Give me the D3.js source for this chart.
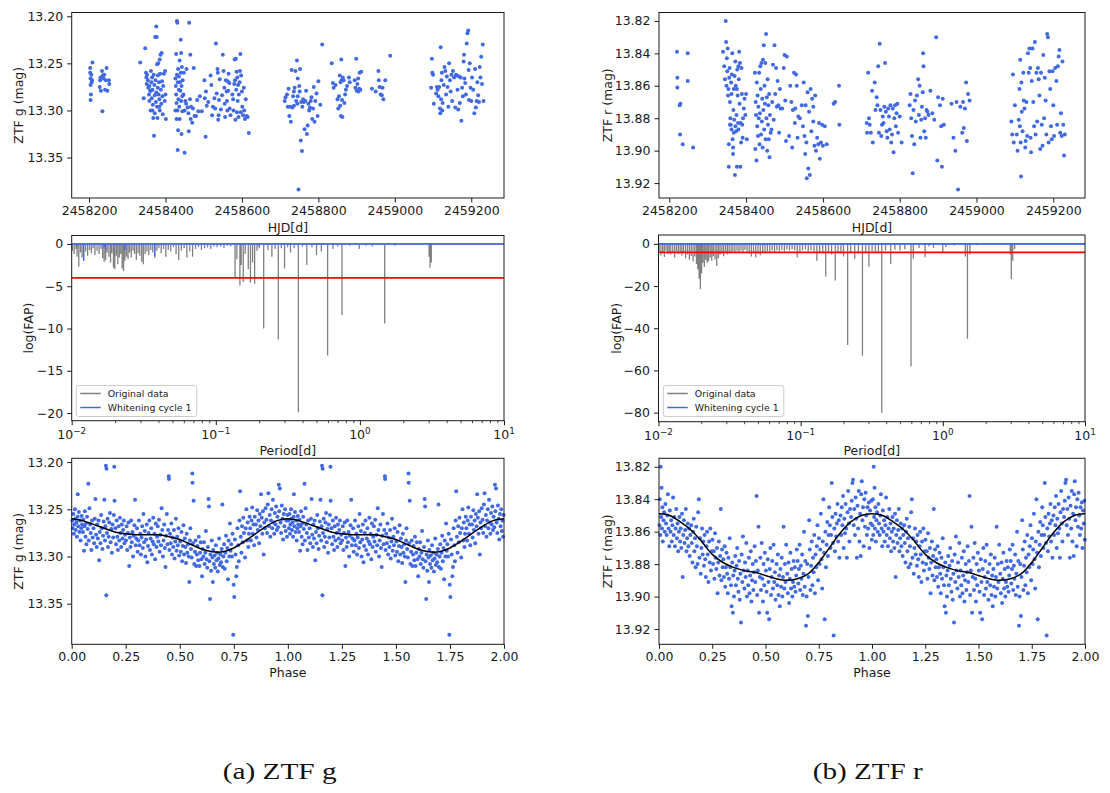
<!DOCTYPE html>
<html>
<head>
<meta charset="utf-8">
<script src="https://cdn.jsdelivr.net/npm/d3@7"></script>
<style>
  body { margin: 0; background: #fff; }
  svg text { font-family: "DejaVu Sans", sans-serif; }
</style>
</head>
<body>
<script>
// ---------------- ZTF g light curve: [HJD, mag] ----------------
const gLightCurve = [
  [2458203,13.255],[2458203,13.260],[2458204,13.266],[2458204,13.273],[2458205,13.283],[2458204,13.289],[2458206,13.262],[2458207,13.270],[2458208,13.268],[2458209,13.249],
  [2458228,13.275],[2458229,13.268],[2458230,13.265],[2458231,13.279],[2458234,13.258],[2458235,13.301],[2458236,13.263],[2458238,13.266],[2458240,13.262],[2458242,13.278],
  [2458244,13.268],[2458246,13.255],[2458248,13.279],[2458252,13.268],[2458253,13.272],
  [2458334,13.249],[2458343,13.287],[2458347,13.234],[2458349,13.260],[2458350,13.265],[2458351,13.272],[2458352,13.262],[2458354,13.268],[2458355,13.276],[2458357,13.283],
  [2458358,13.290],[2458360,13.279],[2458361,13.300],[2458362,13.258],[2458363,13.270],[2458364,13.287],[2458365,13.265],[2458366,13.278],[2458367,13.294],[2458368,13.308],
  [2458369,13.262],[2458370,13.327],[2458371,13.273],[2458372,13.284],[2458373,13.222],[2458374,13.268],[2458375,13.291],[2458376,13.211],[2458377,13.222],[2458378,13.251],
  [2458378,13.296],[2458379,13.308],[2458380,13.263],[2458380,13.276],[2458381,13.250],[2458382,13.283],[2458383,13.270],[2458384,13.288],[2458385,13.246],[2458385,13.300],
  [2458386,13.261],[2458387,13.241],[2458388,13.278],[2458389,13.293],[2458390,13.239],[2458391,13.269],[2458392,13.285],[2458393,13.304],[2458394,13.274],[2458396,13.261],
  [2458398,13.290],[2458400,13.283],[2458401,13.309],[2458399,13.258],[2458366,13.300],[2458372,13.303],[2458358,13.274],[2458384,13.296],[2458376,13.281],[2458362,13.279],
  [2458426,13.266],[2458427,13.274],[2458428,13.240],[2458428,13.283],[2458429,13.292],[2458429,13.309],[2458430,13.205],[2458430,13.262],[2458431,13.207],[2458431,13.300],
  [2458432,13.342],[2458432,13.270],[2458433,13.321],[2458433,13.256],[2458434,13.288],[2458435,13.264],[2458436,13.296],[2458437,13.247],[2458437,13.309],[2458438,13.270],
  [2458439,13.279],[2458440,13.225],[2458440,13.260],[2458441,13.239],[2458441,13.290],[2458442,13.325],[2458442,13.274],[2458443,13.254],[2458444,13.301],[2458445,13.268],
  [2458447,13.283],[2458448,13.260],[2458450,13.345],[2458450,13.300],[2458452,13.290],[2458454,13.293],[2458455,13.256],[2458458,13.297],[2458460,13.303],[2458461,13.322],
  [2458462,13.207],[2458464,13.288],[2458465,13.241],[2458466,13.309],[2458467,13.296],[2458470,13.313],[2458472,13.298],[2458474,13.255],[2458476,13.306],[2458435,13.278],
  [2458444,13.285],[2458426,13.300],
  [2458480,13.306],[2458483,13.289],[2458486,13.301],[2458490,13.285],[2458495,13.301],[2458502,13.268],[2458503,13.287],[2458505,13.328],[2458506,13.280],[2458508,13.295],
  [2458512,13.291],[2458518,13.263],[2458520,13.273],[2458522,13.305],[2458524,13.296],[2458528,13.287],[2458530,13.298],[2458532,13.229],[2458534,13.282],[2458536,13.256],
  [2458537,13.260],[2458538,13.310],[2458539,13.305],[2458540,13.289],[2458542,13.267],[2458545,13.299],[2458548,13.284],
  [2458550,13.241],[2458552,13.258],[2458554,13.276],[2458555,13.293],[2458556,13.307],[2458558,13.268],[2458560,13.280],[2458561,13.290],[2458562,13.300],[2458564,13.279],
  [2458565,13.261],[2458567,13.271],[2458568,13.298],[2458570,13.305],[2458575,13.283],[2458578,13.300],[2458580,13.272],[2458581,13.246],[2458582,13.268],[2458583,13.310],
  [2458584,13.245],[2458585,13.278],[2458586,13.259],[2458587,13.302],[2458588,13.265],[2458589,13.290],[2458590,13.273],[2458591,13.307],[2458592,13.283],[2458594,13.270],
  [2458595,13.258],[2458596,13.240],[2458597,13.302],[2458598,13.263],[2458600,13.280],[2458601,13.296],[2458603,13.305],[2458605,13.276],[2458606,13.300],[2458608,13.309],
  [2458610,13.288],[2458612,13.306],[2458615,13.307],[2458618,13.324],[2458577,13.288],[2458563,13.269],
  [2458712,13.290],[2458714,13.286],[2458718,13.283],[2458720,13.296],[2458722,13.277],[2458724,13.306],[2458726,13.296],[2458728,13.312],[2458730,13.257],[2458732,13.297],
  [2458734,13.285],[2458736,13.280],[2458738,13.276],[2458740,13.258],[2458742,13.290],[2458744,13.247],[2458745,13.293],[2458746,13.266],[2458748,13.384],[2458750,13.274],
  [2458751,13.280],[2458752,13.256],[2458754,13.332],[2458755,13.291],[2458757,13.343],[2458758,13.296],[2458760,13.288],[2458762,13.291],[2458764,13.320],[2458766,13.290],
  [2458768,13.279],[2458770,13.325],[2458772,13.316],[2458774,13.293],[2458776,13.300],[2458778,13.297],[2458780,13.290],[2458782,13.286],[2458784,13.309],[2458786,13.298],
  [2458788,13.275],[2458790,13.312],[2458792,13.290],[2458795,13.282],[2458798,13.306],[2458800,13.269],[2458805,13.294],[2458810,13.230],[2458746,13.285],[2458736,13.295],
  [2458835,13.250],[2458838,13.271],[2458840,13.276],[2458845,13.273],[2458850,13.288],[2458852,13.298],[2458854,13.285],[2458856,13.263],[2458857,13.295],[2458858,13.270],
  [2458859,13.306],[2458860,13.246],[2458861,13.268],[2458862,13.289],[2458863,13.307],[2458864,13.265],[2458866,13.268],[2458868,13.292],[2458870,13.283],[2458872,13.278],
  [2458875,13.274],[2458880,13.265],[2458882,13.270],[2458895,13.268],[2458897,13.276],[2458899,13.245],[2458900,13.279],[2458902,13.272],[2458904,13.266],[2458905,13.280],
  [2458907,13.277],[2458908,13.260],[2458910,13.278],[2458912,13.259],
  [2458940,13.277],[2458950,13.280],[2458957,13.258],[2458958,13.268],[2458960,13.275],[2458963,13.283],[2458966,13.284],[2458968,13.276],[2458970,13.288],[2458975,13.268],
  [2458988,13.242],
  [2459095,13.276],[2459097,13.245],[2459098,13.260],[2459100,13.262],[2459102,13.293],[2459108,13.282],[2459110,13.275],[2459112,13.278],[2459114,13.285],[2459116,13.275],
  [2459118,13.298],[2459119,13.303],[2459120,13.233],[2459121,13.288],[2459122,13.268],[2459123,13.260],[2459124,13.300],[2459125,13.292],[2459128,13.273],[2459130,13.254],
  [2459132,13.258],[2459134,13.283],[2459136,13.264],[2459138,13.275],[2459140,13.296],[2459142,13.250],[2459144,13.268],[2459146,13.280],[2459148,13.262],[2459150,13.290],
  [2459152,13.258],[2459155,13.265],[2459158,13.297],[2459160,13.262],[2459162,13.263],[2459164,13.278],[2459166,13.299],[2459168,13.264],[2459170,13.292],[2459172,13.265],
  [2459174,13.311],[2459176,13.276],[2459178,13.285],[2459180,13.248],[2459181,13.241],[2459182,13.266],[2459184,13.271],[2459186,13.283],[2459188,13.229],[2459190,13.218],
  [2459192,13.215],[2459193,13.257],[2459194,13.289],[2459196,13.250],[2459198,13.276],[2459200,13.290],[2459202,13.265],[2459205,13.278],[2459208,13.303],[2459210,13.256],
  [2459212,13.297],[2459214,13.290],[2459216,13.270],[2459218,13.284],[2459220,13.291],[2459222,13.254],[2459224,13.265],[2459226,13.243],[2459228,13.272],[2459230,13.230],
  [2459232,13.290]
];

// ---------------- ZTF r light curve: [HJD, mag] ----------------
const rLightCurve = [
  [2458220,13.839],[2458221,13.855],[2458221,13.861],[2458227,13.872],[2458229,13.871],[2458228,13.890],[2458235,13.896],[2458248,13.840],[2458248,13.857],[2458262,13.898],
  [2458340,13.839],[2458343,13.848],[2458345,13.856],[2458347,13.820],[2458348,13.833],[2458349,13.860],[2458350,13.843],[2458351,13.851],[2458352,13.837],[2458353,13.866],
  [2458354,13.862],[2458355,13.896],[2458355,13.910],[2458356,13.855],[2458357,13.849],[2458358,13.870],[2458359,13.880],[2458360,13.884],[2458361,13.858],[2458362,13.887],
  [2458363,13.853],[2458364,13.840],[2458365,13.893],[2458366,13.902],[2458366,13.898],[2458367,13.875],[2458368,13.862],[2458369,13.881],[2458370,13.854],[2458371,13.915],
  [2458372,13.845],[2458372,13.885],[2458373,13.860],[2458374,13.888],[2458375,13.878],[2458376,13.910],[2458377,13.850],[2458378,13.866],[2458379,13.883],[2458380,13.887],
  [2458381,13.856],[2458382,13.839],[2458383,13.871],[2458384,13.846],[2458385,13.910],[2458386,13.883],[2458387,13.895],[2458388,13.849],[2458389,13.865],[2458390,13.884],
  [2458391,13.892],[2458392,13.880],[2458394,13.874],[2458396,13.868],[2458398,13.878],[2458400,13.865],[2458402,13.893],[2458362,13.865],[2458376,13.862],[2458358,13.884],
  [2458368,13.889],[2458380,13.848],
  [2458423,13.852],[2458424,13.899],[2458425,13.870],[2458426,13.878],[2458427,13.906],[2458428,13.858],[2458429,13.885],[2458430,13.866],[2458431,13.891],[2458432,13.873],
  [2458433,13.880],[2458434,13.852],[2458435,13.896],[2458436,13.877],[2458437,13.848],[2458438,13.862],[2458439,13.890],[2458440,13.846],[2458441,13.882],[2458442,13.868],
  [2458443,13.898],[2458444,13.844],[2458445,13.875],[2458446,13.835],[2458447,13.887],[2458448,13.860],[2458449,13.871],[2458450,13.846],[2458451,13.893],[2458452,13.828],
  [2458453,13.880],[2458454,13.867],[2458455,13.900],[2458456,13.856],[2458457,13.884],[2458458,13.872],[2458459,13.893],[2458460,13.865],[2458461,13.904],[2458462,13.878],
  [2458464,13.889],[2458466,13.887],[2458468,13.870],[2458470,13.847],[2458472,13.881],[2458474,13.835],[2458476,13.865],[2458478,13.849],[2458480,13.873],[2458482,13.857],
  [2458484,13.872],[2458486,13.889],[2458488,13.862],[2458490,13.874],[2458494,13.874],[2458498,13.849],[2458500,13.841],[2458502,13.869],[2458504,13.894],[2458506,13.842],
  [2458512,13.891],[2458515,13.860],[2458518,13.870],[2458520,13.898],[2458522,13.875],[2458525,13.852],[2458527,13.883],[2458528,13.874],[2458530,13.853],[2458532,13.860],
  [2458534,13.892],[2458536,13.879],[2458540,13.880],[2458545,13.872],[2458548,13.885],[2458550,13.858],[2458552,13.891],[2458554,13.902],[2458555,13.872],[2458557,13.895],
  [2458558,13.917],[2458560,13.864],[2458562,13.911],[2458564,13.876],[2458566,13.915],[2458568,13.862],[2458570,13.888],[2458572,13.868],[2458575,13.882],[2458578,13.897],
  [2458580,13.866],[2458582,13.900],[2458585,13.892],[2458588,13.896],[2458590,13.883],[2458592,13.905],[2458595,13.895],[2458598,13.884],[2458600,13.897],[2458605,13.885],
  [2458610,13.896],[2458628,13.871],[2458632,13.870],[2458642,13.860],[2458643,13.884],[2458575,13.873],
  [2458714,13.883],[2458715,13.889],[2458718,13.852],[2458720,13.880],[2458722,13.884],[2458725,13.889],[2458728,13.863],[2458730,13.895],[2458735,13.858],[2458737,13.875],
  [2458740,13.867],[2458742,13.872],[2458744,13.848],[2458746,13.889],[2458748,13.834],[2458750,13.875],[2458752,13.891],[2458754,13.884],[2458756,13.879],[2458758,13.883],
  [2458760,13.873],[2458762,13.846],[2458764,13.876],[2458766,13.888],[2458768,13.892],[2458770,13.874],[2458772,13.879],[2458774,13.887],[2458776,13.872],[2458778,13.895],
  [2458780,13.890],[2458782,13.874],[2458784,13.901],[2458786,13.880],[2458788,13.872],[2458790,13.885],[2458792,13.877],[2458794,13.871],[2458796,13.889],[2458800,13.879],
  [2458805,13.895],
  [2458826,13.872],[2458828,13.865],[2458830,13.880],[2458832,13.891],[2458834,13.914],[2458836,13.875],[2458838,13.896],[2458840,13.869],[2458842,13.882],[2458845,13.866],
  [2458848,13.856],[2458850,13.878],[2458852,13.860],[2458854,13.892],[2458856,13.881],[2458858,13.873],[2458860,13.864],[2458861,13.840],[2458862,13.848],[2458864,13.888],
  [2458866,13.880],[2458868,13.892],[2458870,13.875],[2458872,13.876],[2458875,13.878],[2458880,13.863],[2458885,13.877],[2458890,13.881],[2458895,13.830],[2458898,13.906],
  [2458900,13.867],[2458905,13.872],[2458908,13.885],[2458910,13.910],[2458912,13.868],[2458915,13.884],
  [2458935,13.871],[2458940,13.892],[2458945,13.900],[2458948,13.870],[2458952,13.924],[2458958,13.873],[2458963,13.889],[2458965,13.870],[2458967,13.886],[2458970,13.874],
  [2458973,13.858],[2458975,13.894],[2458978,13.865],[2458982,13.869],
  [2459091,13.882],[2459093,13.890],[2459095,13.853],[2459097,13.895],[2459100,13.872],[2459105,13.890],[2459107,13.900],[2459110,13.881],[2459112,13.862],[2459113,13.885],
  [2459114,13.844],[2459115,13.895],[2459116,13.916],[2459117,13.858],[2459118,13.876],[2459120,13.888],[2459122,13.852],[2459123,13.869],[2459125,13.874],[2459127,13.898],
  [2459128,13.894],[2459130,13.870],[2459132,13.891],[2459134,13.840],[2459136,13.852],[2459138,13.837],[2459140,13.849],[2459141,13.892],[2459142,13.901],[2459144,13.857],
  [2459146,13.837],[2459148,13.870],[2459150,13.885],[2459152,13.833],[2459154,13.890],[2459156,13.852],[2459158,13.882],[2459160,13.849],[2459162,13.856],[2459164,13.866],
  [2459166,13.899],[2459168,13.852],[2459170,13.884],[2459172,13.897],[2459174,13.841],[2459176,13.880],[2459178,13.855],[2459180,13.869],[2459182,13.890],[2459184,13.828],
  [2459186,13.830],[2459188,13.895],[2459190,13.851],[2459192,13.862],[2459194,13.885],[2459196,13.893],[2459198,13.851],[2459200,13.872],[2459202,13.891],[2459205,13.849],
  [2459208,13.857],[2459210,13.884],[2459212,13.848],[2459214,13.842],[2459216,13.838],[2459218,13.889],[2459220,13.877],[2459222,13.891],[2459224,13.845],[2459226,13.884],
  [2459228,13.903],[2459230,13.890]
];

// ---------------- Periodograms: [period (d), log(FAP)] ----------------
const gOriginalFAP = [
  [0.0101,-0.8],[0.0104,-1.2],[0.0107,-0.6],[0.0109,-1.5],[0.0112,-2.7],[0.0115,-1.0],[0.0118,-1.6],[0.0121,-2.0],[0.0125,-0.9],[0.0129,-1.4],
  [0.0133,-0.7],[0.0137,-1.1],[0.0141,-0.5],[0.0145,-1.3],[0.0150,-0.8],[0.0155,-1.2],[0.0160,-0.6],[0.0164,-1.7],[0.0168,-2.1],[0.0172,-1.9],
  [0.0176,-1.0],[0.0181,-1.5],[0.0186,-2.2],[0.0190,-1.1],[0.0195,-2.8],[0.0199,-3.0],[0.0204,-1.4],[0.0209,-2.4],[0.0214,-1.6],[0.0219,-1.2],
  [0.0224,-2.9],[0.0229,-3.2],[0.0234,-2.0],[0.0240,-1.5],[0.0246,-1.8],[0.0252,-1.0],[0.0259,-1.6],[0.0266,-0.8],[0.0273,-1.2],[0.0281,-1.9],
  [0.0289,-1.1],[0.0297,-1.4],[0.0306,-2.1],[0.0314,-2.4],[0.0323,-1.2],[0.0333,-0.9],[0.0343,-1.3],[0.0354,-0.7],[0.0365,-1.0],[0.0377,-1.6],
  [0.0390,-0.8],[0.0403,-0.5],[0.0418,-1.1],[0.0434,-0.6],[0.0450,-1.5],[0.0468,-0.7],[0.0487,-0.9],[0.0508,-0.4],[0.0530,-1.2],[0.0553,-1.9],
  [0.0577,-0.8],[0.0603,-0.5],[0.0630,-1.6],[0.0660,-0.9],[0.0690,-1.5],[0.0723,-0.6],[0.0758,-0.4],[0.0795,-0.7],[0.0835,-0.5],[0.0877,-0.4],
  [0.0922,-0.6],[0.0970,-0.3],[0.102,-0.4],[0.108,-0.3],[0.114,-0.5],[0.120,-0.2],[0.127,-0.3],
  [0.136,-4.0],[0.140,-1.8],[0.147,-4.9],[0.150,-2.5],[0.155,-4.5],[0.160,-1.2],[0.168,-3.0],[0.174,-4.6],[0.180,-2.2],[0.186,-4.7],
  [0.193,-0.8],[0.200,-0.5],[0.215,-10.0],[0.230,-0.7],[0.245,-1.5],[0.258,-0.6],[0.2716,-11.3],[0.285,-0.5],[0.300,-2.9],[0.315,-0.4],
  [0.330,-1.0],[0.350,-0.5],[0.374,-19.9],[0.400,-0.3],[0.428,-2.5],[0.465,-0.4],[0.50,-1.3],[0.54,-0.9],[0.597,-13.2],[0.65,-0.6],
  [0.70,-0.3],[0.751,-8.4],[0.85,-0.2],[0.99,-0.6],[1.10,-0.2],[1.22,-0.3],[1.486,-9.4],[1.75,-0.2],[3.02,-1.5],[3.07,-2.8],[3.13,-2.2]
];
const gWhitenedFAP = [
  [0.0109,-0.3],[0.0121,-2.0],[0.0168,-0.4],[0.0172,-0.6],[0.0234,-0.7],[0.0377,-1.5],[0.200,-0.3]
];
const rOriginalFAP = [
  [0.0101,-3.5],[0.0104,-5.5],[0.0107,-4.0],[0.0110,-6.2],[0.0113,-3.2],[0.0116,-4.8],[0.0119,-3.8],[0.0122,-5.0],[0.0126,-4.2],[0.0130,-6.5],
  [0.0134,-3.6],[0.0138,-4.9],[0.0142,-3.9],[0.0146,-5.6],[0.0150,-4.4],[0.0155,-6.8],[0.0160,-5.1],[0.0165,-7.5],[0.0170,-5.8],[0.0175,-8.2],
  [0.0180,-6.0],[0.0185,-9.5],[0.0189,-12.0],[0.0193,-16.5],[0.0197,-21.5],[0.0201,-14.0],[0.0205,-9.0],[0.0210,-11.0],[0.0215,-7.5],[0.0220,-9.0],
  [0.0225,-8.2],[0.0231,-6.5],[0.0237,-8.0],[0.0243,-5.9],[0.0250,-7.4],[0.0257,-10.5],[0.0264,-6.8],[0.0271,-5.2],[0.0279,-4.6],[0.0287,-5.9],
  [0.0296,-4.1],[0.0305,-5.0],[0.0314,-3.8],[0.0324,-4.5],[0.0334,-3.5],[0.0345,-4.2],[0.0356,-3.3],[0.0368,-4.0],[0.0380,-3.1],[0.0393,-3.7],
  [0.0406,-2.9],[0.0420,-3.6],[0.0435,-4.6],[0.0450,-6.0],[0.0466,-4.5],[0.0483,-6.5],[0.0501,-4.8],[0.0520,-5.4],[0.0540,-3.9],[0.0561,-4.4],
  [0.0583,-3.5],[0.0606,-4.2],[0.0630,-3.2],[0.0655,-3.9],[0.0681,-3.0],[0.0709,-3.6],[0.0738,-2.9],[0.0769,-3.5],[0.0801,-2.7],[0.0835,-3.2],
  [0.0870,-2.5],[0.0907,-3.0],[0.0946,-6.5],[0.0987,-4.0],[0.103,-3.0],[0.108,-2.6],[0.113,-3.4],[0.118,-3.0],[0.124,-3.6],[0.130,-8.0],
  [0.136,-3.8],[0.143,-4.5],[0.150,-15.5],[0.157,-4.0],[0.165,-5.0],[0.175,-17.4],[0.183,-4.2],[0.192,-4.6],[0.200,-6.0],[0.214,-48.0],
  [0.225,-3.8],[0.240,-7.0],[0.255,-4.5],[0.272,-53.0],[0.287,-4.0],[0.302,-10.7],[0.318,-3.5],[0.335,-4.2],[0.352,-4.0],[0.372,-80.0],
  [0.395,-3.2],[0.430,-9.6],[0.460,-2.8],[0.50,-3.2],[0.54,-2.5],[0.597,-58.0],[0.620,-7.0],[0.68,-2.0],[0.75,-6.3],[0.80,-1.2],
  [0.86,-2.0],[1.00,-4.2],[1.05,-1.5],[1.20,-0.8],[1.44,-6.0],[1.49,-45.0],[1.55,-5.0],[1.75,-0.6],[2.00,-0.5],[2.98,-5.0],
  [3.03,-16.6],[3.10,-8.0],[3.20,-2.5],[4.00,-0.3],[5.00,-0.2]
];
const rWhitenedFAP = [
  [0.019,-0.8],[0.033,-0.5],[0.055,-0.6],[0.100,-0.4],[0.200,-0.5],[0.600,-0.3],[1.000,-0.3]
];
const fapThreshold = -4;
const periodTicks = [0.01, 0.1, 1, 10];

// ---------------- Phase-folded data (one cycle): [phase, mag] ----------------
const gPhased = [
  [0.003,13.262],[0.005,13.270],[0.008,13.255],[0.010,13.276],[0.012,13.266],[0.015,13.250],[0.017,13.260],[0.019,13.272],[0.022,13.264],[0.024,13.279],
  [0.027,13.258],[0.028,13.234],[0.030,13.268],[0.033,13.253],[0.036,13.274],[0.039,13.262],[0.041,13.283],[0.044,13.270],[0.046,13.257],[0.048,13.266],
  [0.052,13.274],[0.054,13.261],[0.057,13.294],[0.059,13.268],[0.061,13.252],[0.064,13.279],[0.066,13.265],[0.068,13.287],[0.071,13.258],[0.074,13.271],
  [0.077,13.223],[0.079,13.283],[0.082,13.249],[0.085,13.266],[0.088,13.275],[0.091,13.293],[0.094,13.262],[0.097,13.280],
  [0.101,13.270],[0.104,13.286],[0.107,13.260],[0.110,13.239],[0.113,13.277],[0.116,13.290],[0.118,13.266],[0.121,13.281],[0.124,13.262],[0.127,13.304],
  [0.130,13.274],[0.133,13.286],[0.136,13.256],[0.139,13.270],[0.142,13.292],[0.145,13.278],[0.148,13.263],
  [0.151,13.240],[0.154,13.283],[0.156,13.268],[0.158,13.204],[0.160,13.341],[0.161,13.207],[0.163,13.275],[0.166,13.260],[0.168,13.290],[0.171,13.279],
  [0.174,13.264],[0.177,13.254],[0.180,13.285],[0.183,13.271],[0.186,13.296],[0.189,13.266],[0.192,13.280],[0.195,13.256],[0.197,13.205],[0.198,13.241],
  [0.202,13.270],[0.205,13.287],[0.208,13.262],[0.211,13.279],[0.214,13.293],[0.217,13.268],[0.220,13.283],[0.223,13.259],[0.226,13.275],[0.229,13.290],
  [0.232,13.266],[0.235,13.281],[0.238,13.272],[0.241,13.262],[0.244,13.286],[0.247,13.277],
  [0.251,13.283],[0.254,13.268],[0.257,13.293],[0.260,13.275],[0.263,13.264],[0.266,13.310],[0.269,13.280],[0.272,13.290],[0.275,13.262],[0.278,13.285],
  [0.281,13.274],[0.284,13.300],[0.287,13.278],[0.290,13.267],[0.293,13.240],[0.296,13.288],[0.299,13.281],
  [0.302,13.270],[0.305,13.295],[0.308,13.283],[0.311,13.262],[0.314,13.288],[0.317,13.276],[0.320,13.298],[0.323,13.280],[0.326,13.268],[0.329,13.291],
  [0.332,13.255],[0.335,13.285],[0.338,13.273],[0.341,13.300],[0.344,13.282],[0.347,13.266],[0.350,13.306],
  [0.353,13.289],[0.356,13.275],[0.359,13.262],[0.362,13.293],[0.365,13.281],[0.368,13.270],[0.371,13.298],[0.374,13.284],[0.377,13.259],[0.380,13.287],
  [0.383,13.276],[0.386,13.303],[0.389,13.265],[0.392,13.290],[0.395,13.279],[0.398,13.268],
  [0.401,13.284],[0.404,13.261],[0.407,13.295],[0.410,13.277],[0.413,13.288],[0.416,13.249],[0.419,13.272],[0.422,13.300],[0.425,13.283],[0.428,13.266],
  [0.431,13.291],[0.434,13.311],[0.437,13.278],[0.440,13.255],[0.443,13.287],[0.446,13.272],[0.449,13.215],[0.450,13.218],
  [0.452,13.293],[0.455,13.276],[0.458,13.286],[0.461,13.265],[0.464,13.298],[0.467,13.280],[0.470,13.290],[0.473,13.272],[0.476,13.302],[0.479,13.284],
  [0.482,13.260],[0.485,13.294],[0.488,13.279],[0.491,13.288],[0.494,13.270],[0.497,13.299],
  [0.502,13.284],[0.505,13.295],[0.508,13.274],[0.511,13.305],[0.514,13.289],[0.517,13.267],[0.520,13.298],[0.523,13.281],[0.526,13.290],[0.529,13.307],
  [0.532,13.276],[0.535,13.296],[0.538,13.287],[0.541,13.300],[0.544,13.327],[0.547,13.283],[0.549,13.270],
  [0.552,13.292],[0.555,13.301],[0.558,13.212],[0.559,13.222],[0.561,13.286],[0.564,13.241],[0.567,13.308],[0.570,13.295],[0.573,13.283],[0.576,13.310],
  [0.579,13.298],[0.582,13.289],[0.585,13.304],[0.588,13.279],[0.591,13.310],[0.594,13.296],[0.597,13.285],[0.600,13.303],
  [0.603,13.321],[0.606,13.292],[0.609,13.300],[0.612,13.285],[0.615,13.308],[0.618,13.296],[0.621,13.273],[0.624,13.303],[0.627,13.312],[0.630,13.290],
  [0.633,13.239],[0.635,13.247],[0.637,13.305],[0.640,13.345],[0.642,13.298],[0.645,13.315],[0.648,13.283],
  [0.651,13.301],[0.653,13.327],[0.655,13.293],[0.658,13.308],[0.661,13.299],[0.664,13.312],[0.667,13.288],[0.670,13.304],[0.673,13.296],[0.676,13.316],
  [0.679,13.302],[0.682,13.281],[0.685,13.309],[0.688,13.298],[0.691,13.306],[0.694,13.292],[0.697,13.245],[0.699,13.311],
  [0.702,13.300],[0.705,13.287],[0.708,13.313],[0.711,13.296],[0.714,13.278],[0.717,13.305],[0.720,13.291],[0.723,13.324],[0.726,13.283],[0.729,13.300],
  [0.732,13.265],[0.735,13.294],[0.738,13.287],[0.741,13.300],[0.744,13.276],[0.747,13.383],[0.749,13.330],
  [0.752,13.343],[0.755,13.282],[0.758,13.298],[0.761,13.321],[0.764,13.311],[0.767,13.270],[0.770,13.288],[0.773,13.305],[0.776,13.262],[0.779,13.231],
  [0.782,13.279],[0.785,13.296],[0.788,13.268],[0.791,13.285],[0.794,13.259],[0.797,13.275],
  [0.802,13.301],[0.805,13.270],[0.808,13.250],[0.811,13.283],[0.814,13.264],[0.817,13.290],[0.820,13.276],[0.823,13.258],[0.826,13.270],[0.829,13.283],
  [0.832,13.262],[0.835,13.248],[0.838,13.276],[0.841,13.266],[0.844,13.288],[0.847,13.258],
  [0.852,13.266],[0.855,13.280],[0.858,13.251],[0.861,13.272],[0.864,13.262],[0.867,13.286],[0.870,13.255],[0.873,13.268],[0.876,13.234],[0.879,13.259],
  [0.882,13.276],[0.885,13.252],[0.888,13.298],[0.891,13.264],[0.894,13.270],[0.897,13.249],
  [0.901,13.261],[0.904,13.275],[0.907,13.245],[0.910,13.233],[0.913,13.268],[0.916,13.256],[0.919,13.279],[0.922,13.262],[0.925,13.250],[0.928,13.270],
  [0.931,13.240],[0.934,13.264],[0.937,13.276],[0.940,13.254],[0.943,13.266],[0.946,13.247],[0.949,13.272],
  [0.952,13.258],[0.955,13.269],[0.958,13.224],[0.960,13.252],[0.963,13.228],[0.966,13.264],[0.969,13.275],[0.972,13.246],[0.975,13.260],[0.978,13.282],
  [0.981,13.255],[0.984,13.268],[0.987,13.250],[0.990,13.273],[0.993,13.262],[0.996,13.279],[0.998,13.256]
];
const rPhased = [
  [0.002,13.856],[0.004,13.840],[0.006,13.862],[0.008,13.820],[0.010,13.851],[0.012,13.833],[0.014,13.858],[0.016,13.845],[0.018,13.866],[0.021,13.853],
  [0.024,13.848],[0.027,13.860],[0.030,13.843],[0.033,13.855],[0.036,13.862],[0.039,13.850],[0.042,13.837],[0.045,13.858],[0.048,13.869],
  [0.051,13.847],[0.054,13.860],[0.057,13.853],[0.060,13.866],[0.063,13.856],[0.066,13.839],[0.069,13.862],[0.072,13.851],[0.075,13.869],[0.078,13.858],
  [0.081,13.846],[0.084,13.864],[0.087,13.855],[0.090,13.872],[0.093,13.860],[0.096,13.851],[0.099,13.866],
  [0.102,13.858],[0.105,13.870],[0.108,13.849],[0.111,13.888],[0.114,13.862],[0.117,13.853],[0.120,13.867],[0.123,13.859],[0.126,13.846],[0.129,13.872],
  [0.132,13.864],[0.135,13.855],[0.138,13.869],[0.141,13.858],[0.144,13.875],[0.147,13.862],
  [0.151,13.856],[0.154,13.867],[0.157,13.879],[0.160,13.860],[0.163,13.852],[0.166,13.872],[0.169,13.864],[0.172,13.882],[0.175,13.857],[0.178,13.869],
  [0.181,13.880],[0.184,13.848],[0.187,13.840],[0.190,13.876],[0.193,13.864],[0.196,13.886],[0.199,13.870],
  [0.202,13.858],[0.205,13.874],[0.208,13.866],[0.211,13.881],[0.214,13.862],[0.217,13.877],[0.220,13.888],[0.223,13.869],[0.226,13.860],[0.229,13.874],
  [0.232,13.891],[0.235,13.866],[0.238,13.879],[0.241,13.858],[0.244,13.884],[0.247,13.872],
  [0.251,13.865],[0.254,13.880],[0.257,13.872],[0.260,13.889],[0.263,13.861],[0.266,13.876],[0.269,13.883],[0.272,13.870],[0.275,13.898],[0.278,13.879],
  [0.281,13.866],[0.284,13.887],[0.287,13.875],[0.290,13.846],[0.293,13.890],[0.296,13.871],[0.299,13.882],
  [0.302,13.877],[0.305,13.888],[0.308,13.869],[0.311,13.894],[0.314,13.882],[0.317,13.873],[0.320,13.886],[0.323,13.898],[0.326,13.876],[0.329,13.889],
  [0.332,13.864],[0.335,13.882],[0.338,13.893],[0.341,13.906],[0.344,13.879],[0.347,13.910],[0.349,13.887],
  [0.352,13.900],[0.355,13.884],[0.358,13.875],[0.361,13.893],[0.364,13.881],[0.367,13.870],[0.370,13.889],[0.373,13.897],[0.376,13.878],[0.379,13.902],
  [0.382,13.886],[0.385,13.916],[0.388,13.874],[0.391,13.891],[0.394,13.863],[0.397,13.884],
  [0.401,13.895],[0.404,13.879],[0.407,13.888],[0.410,13.867],[0.413,13.900],[0.416,13.884],[0.419,13.893],[0.422,13.876],[0.425,13.898],[0.428,13.887],
  [0.431,13.872],[0.434,13.903],[0.437,13.890],[0.440,13.880],[0.443,13.896],[0.446,13.885],[0.449,13.869],
  [0.452,13.891],[0.455,13.878],[0.458,13.838],[0.461,13.899],[0.464,13.884],[0.467,13.857],[0.470,13.910],[0.473,13.888],[0.476,13.876],[0.479,13.896],
  [0.482,13.867],[0.485,13.889],[0.488,13.903],[0.491,13.880],[0.494,13.893],[0.497,13.873],
  [0.502,13.884],[0.505,13.897],[0.508,13.910],[0.511,13.877],[0.514,13.891],[0.517,13.914],[0.520,13.883],[0.523,13.870],[0.526,13.899],[0.529,13.888],
  [0.532,13.878],[0.535,13.895],[0.538,13.868],[0.541,13.891],[0.544,13.885],[0.547,13.902],
  [0.552,13.880],[0.555,13.893],[0.558,13.874],[0.561,13.899],[0.564,13.887],[0.567,13.906],[0.570,13.883],[0.573,13.894],[0.576,13.876],[0.579,13.900],
  [0.582,13.888],[0.585,13.857],[0.588,13.895],[0.591,13.880],[0.594,13.891],[0.597,13.868],
  [0.602,13.886],[0.605,13.898],[0.608,13.879],[0.611,13.904],[0.614,13.889],[0.617,13.873],[0.620,13.895],[0.623,13.883],[0.626,13.900],[0.629,13.891],
  [0.632,13.878],[0.635,13.894],[0.638,13.882],[0.641,13.897],[0.644,13.887],[0.647,13.871],
  [0.651,13.878],[0.654,13.892],[0.657,13.883],[0.660,13.868],[0.663,13.896],[0.666,13.881],[0.669,13.889],[0.672,13.874],[0.675,13.899],[0.678,13.886],
  [0.681,13.860],[0.684,13.894],[0.687,13.878],[0.690,13.918],[0.693,13.900],[0.696,13.880],[0.699,13.912],
  [0.702,13.888],[0.705,13.853],[0.708,13.871],[0.711,13.896],[0.714,13.881],[0.717,13.866],[0.720,13.893],[0.723,13.876],[0.726,13.885],[0.729,13.862],
  [0.732,13.898],[0.735,13.874],[0.738,13.882],[0.741,13.869],[0.744,13.856],[0.747,13.890],
  [0.751,13.864],[0.754,13.880],[0.757,13.871],[0.760,13.849],[0.763,13.877],[0.766,13.895],[0.769,13.866],[0.772,13.840],[0.775,13.873],[0.778,13.914],
  [0.781,13.860],[0.784,13.882],[0.787,13.868],[0.790,13.854],[0.793,13.875],[0.796,13.862],[0.799,13.845],
  [0.802,13.856],[0.805,13.870],[0.808,13.862],[0.811,13.830],[0.814,13.851],[0.817,13.867],[0.820,13.924],[0.823,13.858],[0.826,13.872],[0.829,13.849],
  [0.832,13.863],[0.835,13.855],[0.838,13.843],[0.841,13.866],[0.844,13.853],[0.847,13.876],
  [0.852,13.850],[0.855,13.862],[0.858,13.845],[0.861,13.856],[0.864,13.838],[0.867,13.870],[0.870,13.852],[0.873,13.861],[0.876,13.843],[0.879,13.858],
  [0.882,13.876],[0.885,13.848],[0.888,13.835],[0.891,13.855],[0.894,13.866],[0.897,13.846],
  [0.902,13.851],[0.905,13.841],[0.908,13.830],[0.911,13.828],[0.914,13.856],[0.917,13.846],[0.920,13.862],[0.923,13.839],[0.926,13.852],[0.929,13.876],
  [0.932,13.844],[0.935,13.858],[0.938,13.835],[0.941,13.866],[0.944,13.849],[0.947,13.875],[0.949,13.837],
  [0.952,13.829],[0.955,13.853],[0.958,13.845],[0.961,13.869],[0.964,13.840],[0.967,13.857],[0.970,13.836],[0.973,13.850],[0.976,13.862],[0.979,13.845],
  [0.982,13.858],[0.985,13.842],[0.988,13.870],[0.991,13.847],[0.994,13.855],[0.997,13.841],[0.999,13.865]
];

// Fitted light-curve models over one cycle: [phase, mag]
const gModel = [
  [0.00,13.260],[0.05,13.262],[0.10,13.266],[0.15,13.270],[0.20,13.274],[0.25,13.276],[0.30,13.277],[0.35,13.277],[0.40,13.277],[0.45,13.279],
  [0.50,13.282],[0.55,13.287],[0.60,13.292],[0.65,13.295],[0.70,13.295],[0.75,13.291],[0.80,13.284],[0.85,13.276],[0.90,13.268],[0.95,13.262],[1.00,13.260]
];
const rModel = [
  [0.00,13.849],[0.05,13.850],[0.10,13.854],[0.15,13.859],[0.20,13.866],[0.25,13.874],[0.30,13.879],[0.35,13.882],[0.40,13.884],[0.45,13.885],
  [0.50,13.887],[0.55,13.889],[0.60,13.890],[0.65,13.889],[0.70,13.886],[0.75,13.879],[0.80,13.870],[0.85,13.861],[0.90,13.854],[0.95,13.850],[1.00,13.849]
];

// Tick values
const hjdTicks = [2458200, 2458400, 2458600, 2458800, 2459000, 2459200];
const gMagTicks = [13.20, 13.25, 13.30, 13.35];
const rMagTicks = [13.82, 13.84, 13.86, 13.88, 13.90, 13.92];
const gFapTicks = [0, -5, -10, -15, -20];
const rFapTicks = [0, -20, -40, -60, -80];
const phaseTicks = [0, 0.25, 0.5, 0.75, 1, 1.25, 1.5, 1.75, 2];

const legendLabels = ["Original data", "Whitening cycle 1"];
const captions = ["(a) ZTF g", "(b) ZTF r"];

// ---------------- drawing ----------------
const BLUE = "#4169e1", GRAY = "#808080", RED = "#ff0000", INK = "#1a1a1a";
const DOT_R = 2.0, FONT = 12.5;

const svg = d3.select("body").append("svg").attr("width", 1110).attr("height", 793);

function styleAxis(sel) {
  sel.attr("font-family", "DejaVu Sans").attr("font-size", FONT);
  sel.select(".domain").remove();
  sel.selectAll(".tick line").attr("stroke", INK).attr("stroke-width", 1);
  sel.selectAll(".tick text").attr("fill", INK);
}

function newPanel(x, y) {
  const g = svg.append("g");
  return { x, y, marks: g.append("g"), axes: g.append("g") };
}

function finishPanel(p, o) {
  const [x0, x1] = p.x.range(), [y0, y1] = p.y.range();
  const ax = p.axes;
  const xAxis = d3.axisBottom(p.x).tickValues(o.xTicks).tickSize(4.5).tickPadding(3.5).tickSizeOuter(0)
    .tickFormat(o.xFmt || (() => ""));
  styleAxis(ax.append("g").attr("transform", `translate(0,${y1})`).call(xAxis));
  if (o.logMinor) {
    const minor = [];
    [0.01, 0.1, 1].forEach(d => { for (let k = 2; k <= 9; k++) minor.push(k * d); });
    const gm = ax.append("g").attr("transform", `translate(0,${y1})`)
      .call(d3.axisBottom(p.x).tickValues(minor).tickSize(2.5).tickFormat(() => "").tickSizeOuter(0));
    styleAxis(gm);
    gm.selectAll(".tick line").attr("stroke-width", 0.8);
    // decade labels: 10 with a superscript exponent
    o.xTicks.forEach(v => {
      const t = ax.append("text").attr("x", p.x(v)).attr("y", y1 + 18.5)
        .attr("text-anchor", "middle").attr("font-size", FONT).attr("fill", INK);
      t.append("tspan").text("10");
      const e = Math.round(Math.log10(v));
      t.append("tspan").attr("dy", -5.5).attr("font-size", 8.8).text(e < 0 ? "\u2212" + (-e) : String(e));
    });
  }
  const yAxis = d3.axisLeft(p.y).tickValues(o.yTicks).tickFormat(o.yFmt).tickSize(4.5).tickPadding(4).tickSizeOuter(0);
  styleAxis(ax.append("g").attr("transform", `translate(${x0},0)`).call(yAxis));

  ax.append("rect").attr("x", x0).attr("y", y0).attr("width", x1 - x0).attr("height", y1 - y0)
    .attr("fill", "none").attr("stroke", INK).attr("stroke-width", 1);

  ax.append("text").attr("x", (x0 + x1) / 2).attr("y", o.xLabelY).attr("text-anchor", "middle")
    .attr("font-size", FONT).attr("fill", INK).text(o.xLabel);
  ax.append("text").attr("transform", `translate(${o.yLabelX},${(y0 + y1) / 2}) rotate(-90)`)
    .attr("text-anchor", "middle").attr("dominant-baseline", "central")
    .attr("font-size", FONT).attr("fill", INK).text(o.yLabel);
}

function dots(p, data, shift) {
  p.marks.append("g").selectAll("circle").data(data).join("circle")
    .attr("cx", d => p.x(d[0] + (shift || 0))).attr("cy", d => p.y(d[1]))
    .attr("r", DOT_R).attr("fill", BLUE);
}

function spikes(p, data, color, width) {
  const y0 = p.y(0);
  const path = data.map(d => `M${p.x(d[0]).toFixed(2)},${y0.toFixed(2)}V${p.y(d[1]).toFixed(2)}`).join("");
  p.marks.append("path").attr("d", path).attr("stroke", color).attr("stroke-width", width).attr("fill", "none");
}

function periodogram(p, original, whitened) {
  const [x0, x1] = p.x.range();
  p.marks.append("line").attr("x1", x0).attr("x2", x1).attr("y1", p.y(0)).attr("y2", p.y(0))
    .attr("stroke", GRAY).attr("stroke-width", 1.3);
  spikes(p, original, GRAY, 1.3);
  spikes(p, whitened, BLUE, 1.3);
  p.marks.append("line").attr("x1", x0).attr("x2", x1).attr("y1", p.y(0)).attr("y2", p.y(0))
    .attr("stroke", BLUE).attr("stroke-width", 1.6);
  p.marks.append("line").attr("x1", x0).attr("x2", x1).attr("y1", p.y(fapThreshold)).attr("y2", p.y(fapThreshold))
    .attr("stroke", RED).attr("stroke-width", 1.8);
}

function legend(p, bx, by) {
  const g = p.axes.append("g").attr("transform", `translate(${bx},${by})`);
  g.append("rect").attr("width", 120.5).attr("height", 31).attr("rx", 2.5)
    .attr("fill", "#fff").attr("fill-opacity", 0.8).attr("stroke", "#cccccc").attr("stroke-width", 1);
  [[GRAY, legendLabels[0]], [BLUE, legendLabels[1]]].forEach(([c, label], i) => {
    const yy = 8 + i * 14;
    g.append("line").attr("x1", 4).attr("x2", 24.5).attr("y1", yy).attr("y2", yy).attr("stroke", c).attr("stroke-width", 1.5);
    g.append("text").attr("x", 31.5).attr("y", yy).attr("dominant-baseline", "central")
      .attr("font-size", 9.4).attr("fill", INK).text(label);
  });
}

function model(p, pts) {
  const full = pts.concat(pts.slice(1).map(d => [d[0] + 1, d[1]]));
  p.marks.append("path").datum(full)
    .attr("d", d3.line().x(d => p.x(d[0])).y(d => p.y(d[1])).curve(d3.curveCatmullRom.alpha(0.5)))
    .attr("fill", "none").attr("stroke", "#000").attr("stroke-width", 1.5);
}

const fmt2 = d3.format(".2f"), fmtInt = d3.format("d");

// Column a: ZTF g
const L = [71.7, 504], R = [659, 1085];

const gTime = newPanel(d3.scaleLinear().domain([2458154.7, 2459285.6]).range(L),
                       d3.scaleLinear().domain([13.196, 13.393]).range([12.5, 198]));
dots(gTime, gLightCurve);
finishPanel(gTime, { xTicks: hjdTicks, xFmt: fmtInt, yTicks: gMagTicks, yFmt: fmt2,
  xLabel: "HJD[d]", xLabelY: 231.5, yLabel: "ZTF g (mag)", yLabelX: 18.5 });

const gFap = newPanel(d3.scaleLog().domain([0.01, 10]).range(L),
                      d3.scaleLinear().domain([1.0, -20.9]).range([235.5, 420.7]));
periodogram(gFap, gOriginalFAP, gWhitenedFAP);
finishPanel(gFap, { xTicks: periodTicks, logMinor: true, yTicks: gFapTicks, yFmt: fmtInt,
  xLabel: "Period[d]", xLabelY: 454.5, yLabel: "log(FAP)", yLabelX: 28.5 });
legend(gFap, 76.2, 385.5);

const gPhase = newPanel(d3.scaleLinear().domain([0, 2]).range(L),
                        d3.scaleLinear().domain([13.196, 13.393]).range([458.3, 644.3]));
dots(gPhase, gPhased, 0);
dots(gPhase, gPhased, 1);
model(gPhase, gModel);
finishPanel(gPhase, { xTicks: phaseTicks, xFmt: fmt2, yTicks: gMagTicks, yFmt: fmt2,
  xLabel: "Phase", xLabelY: 677, yLabel: "ZTF g (mag)", yLabelX: 18.5 });

// Column b: ZTF r
const rTime = newPanel(d3.scaleLinear().domain([2458173.2, 2459282.6]).range(R),
                       d3.scaleLinear().domain([13.8148, 13.9292]).range([12.5, 198]));
dots(rTime, rLightCurve);
finishPanel(rTime, { xTicks: hjdTicks, xFmt: fmtInt, yTicks: rMagTicks, yFmt: fmt2,
  xLabel: "HJD[d]", xLabelY: 231.5, yLabel: "ZTF r (mag)", yLabelX: 607 });

const rFap = newPanel(d3.scaleLog().domain([0.01, 10]).range([658.5, 1085]),
                      d3.scaleLinear().domain([4.2, -84.3]).range([235, 421.7]));
periodogram(rFap, rOriginalFAP, rWhitenedFAP);
finishPanel(rFap, { xTicks: periodTicks, logMinor: true, yTicks: rFapTicks, yFmt: fmtInt,
  xLabel: "Period[d]", xLabelY: 454.5, yLabel: "log(FAP)", yLabelX: 616 });
legend(rFap, 663.3, 385.5);

const rPhase = newPanel(d3.scaleLinear().domain([0, 2]).range(R),
                        d3.scaleLinear().domain([13.8148, 13.9294]).range([458.3, 644.3]));
dots(rPhase, rPhased, 0);
dots(rPhase, rPhased, 1);
model(rPhase, rModel);
finishPanel(rPhase, { xTicks: phaseTicks, xFmt: fmt2, yTicks: rMagTicks, yFmt: fmt2,
  xLabel: "Phase", xLabelY: 677, yLabel: "ZTF r (mag)", yLabelX: 607 });

// Sub-figure captions
[[222.7, 114, captions[0]], [812.7, 110, captions[1]]].forEach(([x, w, s]) => {
  svg.append("text").attr("x", x).attr("y", 778.5)
    .attr("font-size", 22.5).attr("fill", "#111")
    .attr("textLength", w).attr("lengthAdjust", "spacingAndGlyphs")
    .style("font-family", "'Liberation Serif', serif").text(s);
});
</script>
</body>
</html>
